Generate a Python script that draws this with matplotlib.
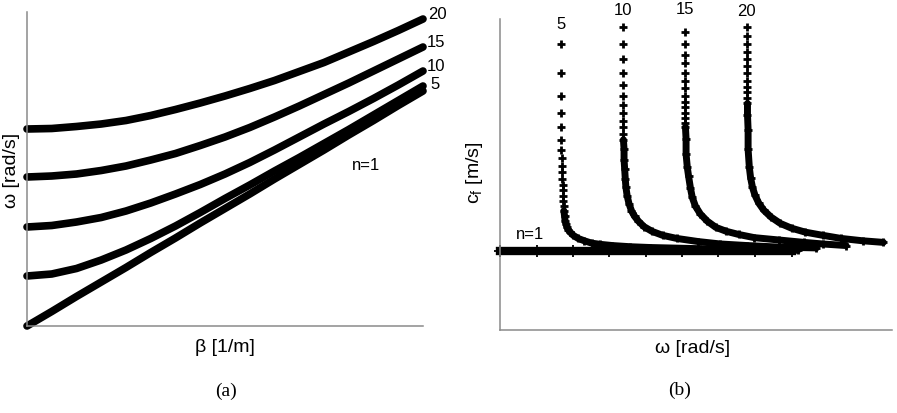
import numpy as np
import matplotlib
matplotlib.use('Agg')
from matplotlib import pyplot as plt

plt.rcParams['font.family'] = ['Liberation Sans', 'DejaVu Sans']
plt.rcParams['mathtext.default'] = 'regular'

# (a) omega vs beta
beta = [0, 2.5, 5, 7.5, 10, 12.5, 15, 17.5, 20, 22.5, 25, 27.5, 30, 32.5, 35, 37.5, 40]
w_a_n1 = [0.00, 0.29, 0.59, 0.88, 1.17, 1.47, 1.76, 2.06, 2.35, 2.64, 2.94, 3.23, 3.52,
          3.82, 4.11, 4.41, 4.70]
w_a_n5 = [1.00, 1.04, 1.15, 1.32, 1.52, 1.75, 2.00, 2.27, 2.55, 2.82, 3.10, 3.37, 3.65,
          3.93, 4.22, 4.51, 4.80]
w_a_n10 = [1.98, 2.01, 2.08, 2.17, 2.30, 2.46, 2.64, 2.83, 3.04, 3.27, 3.52, 3.78, 4.04,
           4.29, 4.55, 4.82, 5.10]
w_a_n15 = [2.98, 3.00, 3.04, 3.11, 3.20, 3.32, 3.45, 3.61, 3.78, 3.97, 4.18, 4.40, 4.63,
           4.86, 5.10, 5.34, 5.58]
w_a_n20 = [3.94, 3.95, 3.99, 4.04, 4.11, 4.21, 4.33, 4.46, 4.60, 4.75, 4.91, 5.09, 5.27,
           5.48, 5.69, 5.91, 6.14]
mode_labels = ['5', '10', '15', '20']

# (b) phase velocity vs omega
w_b_n1 = [0.00, 0.59, 1.17, 1.76, 2.35, 2.94, 3.52, 4.11, 4.70]
c_b_n1 = [1.00, 1.00, 1.00, 1.00, 1.00, 1.00, 1.00, 1.00, 1.00]

w_b_n5 = [0.99, 0.99, 0.99, 0.99, 0.99, 0.99, 0.99, 1.00, 1.00, 1.00, 1.00, 1.01, 1.01,
          1.02, 1.02, 1.03, 1.03, 1.04, 1.05, 1.065, 1.08, 1.10, 1.13, 1.18, 1.26, 1.36,
          1.48, 1.62, 1.81, 2.10, 2.42, 3.23, 4.00, 4.80]
c_b_n5 = [3.62, 3.25, 2.97, 2.75, 2.57, 2.41, 2.28, 2.18, 2.08, 2.00, 1.91, 1.84, 1.77,
          1.70, 1.64, 1.57, 1.51, 1.45, 1.38, 1.34, 1.30, 1.27, 1.24, 1.20, 1.16, 1.13,
          1.10, 1.085, 1.07, 1.055, 1.045, 1.03, 1.02, 1.01]

w_b_n10 = [1.98, 1.98, 1.98, 1.98, 1.98, 1.98, 1.98, 1.99, 1.99, 1.99, 1.99, 1.99, 2.00,
           2.00, 2.01, 2.02, 2.03, 2.05, 2.08, 2.12, 2.17, 2.23, 2.32, 2.45, 2.62, 2.85,
           3.20, 3.55, 3.98, 4.50, 5.10]
c_b_n10 = [3.84, 3.62, 3.43, 3.25, 3.11, 2.97, 2.85, 2.75, 2.65, 2.57, 2.48, 2.41, 2.29,
           2.16, 2.04, 1.91, 1.81, 1.70, 1.60, 1.51, 1.44, 1.38, 1.31, 1.25, 1.20, 1.16,
           1.12, 1.09, 1.07, 1.05, 1.04]

w_b_n15 = [2.98, 2.98, 2.98, 2.98, 2.98, 2.98, 2.98, 2.98, 2.99, 2.99, 2.99, 2.99, 2.99,
           2.99, 3.00, 3.00, 3.02, 3.04, 3.07, 3.10, 3.15, 3.23, 3.34, 3.48, 3.65, 3.85,
           4.10, 4.50, 4.90, 5.20, 5.58]
c_b_n15 = [3.77, 3.62, 3.49, 3.38, 3.25, 3.15, 3.06, 2.97, 2.89, 2.82, 2.75, 2.68, 2.62,
           2.57, 2.42, 2.23, 2.06, 1.95, 1.80, 1.68, 1.57, 1.47, 1.38, 1.30, 1.25, 1.21,
           1.17, 1.14, 1.11, 1.09, 1.07]

w_b_n20 = [3.98, 3.98, 3.98, 3.98, 3.98, 3.98, 3.98, 3.98, 3.99, 3.99, 3.99, 3.99, 3.99,
           4.00, 4.00, 4.02, 4.04, 4.07, 4.11, 4.17, 4.25, 4.37, 4.52, 4.70, 4.92, 5.20,
           5.50, 5.85, 6.18]
c_b_n20 = [3.84, 3.73, 3.62, 3.52, 3.43, 3.34, 3.25, 3.16, 3.08, 3.01, 2.94, 2.87, 2.73,
           2.54, 2.29, 2.06, 1.93, 1.81, 1.71, 1.61, 1.52, 1.43, 1.35, 1.29, 1.24, 1.20,
           1.16, 1.13, 1.11]

GREY = '#8a8a8a'


def style_axes(ax, xlim, ylim):
    ax.set_xlim(*xlim)
    ax.set_ylim(*ylim)
    for side in ('top', 'right'):
        ax.spines[side].set_visible(False)
    for side in ('left', 'bottom'):
        ax.spines[side].set_color(GREY)
        ax.spines[side].set_linewidth(1.1)
    ax.set_xticks([])
    ax.set_yticks([])
    ax.patch.set_alpha(0)


fig = plt.figure(figsize=(8.97, 4.14), dpi=100)
axa = fig.add_axes([27 / 897, 87 / 414, 396 / 897, 314 / 414])
axb = fig.add_axes([500 / 897, 83 / 414, 392 / 897, 311 / 414])

# ---- panel (a)
style_axes(axa, (0, 40), (0, 6.28))
curves_a = [w_a_n1, w_a_n5, w_a_n10, w_a_n15, w_a_n20]
for w in curves_a:
    axa.plot(beta, w, color='black', lw=5.5, solid_capstyle='round',
             solid_joinstyle='round', clip_on=False)

label_offsets_a = [(5, 2), (3, 4), (3, 4), (4, 4)]
for lab, w, off in zip(mode_labels, curves_a[1:], label_offsets_a):
    axa.annotate(lab, xy=(beta[-1], w[-1]), xytext=off, textcoords='offset points',
                 ha='left', va='center', fontsize=12, annotation_clip=False)
axa.text(0.856, 0.513, 'n=1', transform=axa.transAxes, ha='center', va='center', fontsize=12)
axa.text(0.50, -0.064, 'β [1/m]', transform=axa.transAxes, ha='center', va='center', fontsize=14)
axa.text(-0.038, 0.5, 'ω [rad/s]', transform=axa.transAxes, ha='center', va='center',
         rotation=90, fontsize=14)

# ---- panel (b)
style_axes(axb, (0, 6.32), (0, 3.94))
axb.plot(w_b_n1, c_b_n1, color='black', lw=6, marker='+', ms=9, mew=1.3, clip_on=False)

modes_b = [(w_b_n5, c_b_n5, 16, 9.5), (w_b_n10, c_b_n10, 11, 7),
           (w_b_n15, c_b_n15, 13, 11.5), (w_b_n20, c_b_n20, 11, 6.5)]
for lab, (w, c, dense_from, dy) in zip(mode_labels, modes_b):
    axb.plot(w, c, ls='none', marker='+', ms=6, mew=2.0, color='black', clip_on=False)
    axb.plot(w[dense_from:], c[dense_from:], color='black', lw=5, solid_capstyle='round',
             solid_joinstyle='round', clip_on=False)
    axb.annotate(lab, xy=(w[0], c[0]), xytext=(0, dy), textcoords='offset points',
                 ha='center', va='bottom', fontsize=12, annotation_clip=False)

axb.text(0.077, 0.309, 'n=1', transform=axb.transAxes, ha='center', va='center', fontsize=12)
axb.text(0.49, -0.055, 'ω [rad/s]', transform=axb.transAxes, ha='center', va='center', fontsize=14)
axb.text(-0.064, 0.51, 'c$_f$ [m/s]', transform=axb.transAxes, ha='center', va='center',
         rotation=90, fontsize=14)

fig.text(0.252, 0.0556, '(a)', ha='center', va='center', fontsize=14, family='Liberation Serif')
fig.text(0.758, 0.058, '(b)', ha='center', va='center', fontsize=14, family='Liberation Serif')

fig.savefig('out.png', dpi=100)
